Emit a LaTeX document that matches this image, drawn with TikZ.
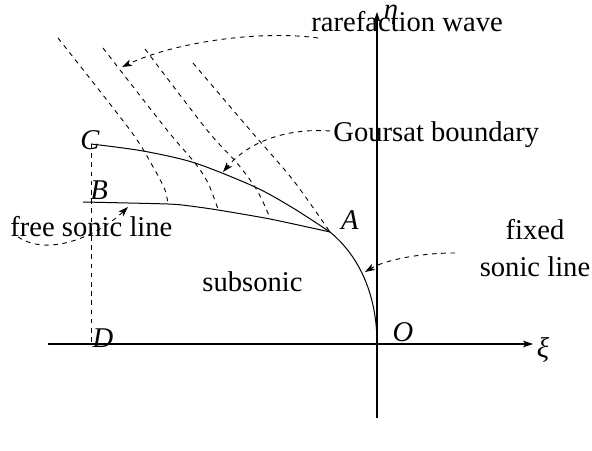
\documentclass[tikz,border=0pt]{standalone}
\usepackage{fontspec}
\setmainfont{Liberation Serif}
\usetikzlibrary{arrows.meta}
\begin{document}
\begin{tikzpicture}[x=0.5bp,y=-0.5bp,
  every node/.style={inner sep=0pt,font=\fontsize{14.3bp}{17bp}\selectfont},
  curve/.style={line width=0.5bp},
  dsh/.style={line width=0.45bp,dash pattern=on 2.3bp off 2.3bp},
  pointer/.style={dsh,-{Stealth[length=5bp,width=3.4bp,inset=1.3bp]}},
  axis/.style={line width=0.6bp,-{Stealth[length=5bp,width=3.4bp,inset=1.3bp]}}]
\useasboundingbox (0,0) rectangle (592,451);

% key points
\coordinate (O) at (377,344);
\coordinate (A) at (330,232);
\coordinate (C) at (91,144);
\coordinate (B) at (83,202);
\coordinate (D) at (91,344);
\coordinate (xl) at (48,344);
\coordinate (xr) at (533,344);
\coordinate (yb) at (377,418);
\coordinate (yt) at (377,12);

% axes
\draw[axis] (xl) -- (xr);
\draw[axis] (yb) -- (yt);

% curves
\draw[curve] (A) .. controls (352,250) and (377,285) .. (O);
\draw[curve] plot[smooth,tension=0.5] coordinates {(C) (143,151) (195,163) (255,187) (293,208) (A)};
\draw[curve] plot[smooth,tension=0.4] coordinates {(B) (168,204) (190,206) (218,210) (270,219) (A)};
\draw[dsh] (C) -- (D);

% rarefaction characteristics
\draw[dsh] plot[smooth,tension=0.5] coordinates {(58,38) (130,130) (152,165) (165,190) (168,205)};
\draw[dsh] plot[smooth,tension=0.5] coordinates {(103,48) (167,130) (195,163) (208,183) (218,209)};
\draw[dsh] plot[smooth,tension=0.5] coordinates {(145,49) (207,130) (237,163) (255,187) (263,202) (270,218)};
\draw[dsh] plot[smooth,tension=0.5] coordinates {(193,63) (250,130) (293,180) (A)};

% labels
\node[anchor=base] (lC) at (90,150) {\textit{C}};
\node[anchor=base] (lB) at (99,200) {\textit{B}};
\node[anchor=base] (lD) at (103,348) {\textit{D}};
\node[anchor=base] (lA) at (350,230) {\textit{A}};
\node[anchor=base] (lO) at (403,342) {\textit{O}};
\node[anchor=base] (leta) at (391,19) {\textit{η}};
\node[anchor=base] (lxi) at (543,357) {\textit{ξ}};
\node[anchor=base west] (rw) at (311,32) {rarefaction wave};
\node[anchor=base west] (gb) at (333,142) {Goursat boundary};
\node[anchor=base west] (fsl) at (10,237) {free sonic line};
\node[anchor=base west] (sub) at (202,292) {subsonic};
\node[anchor=base] (fx1) at (535,240) {fixed};
\node[anchor=base] (fx2) at (535,277) {sonic line};

% pointers
\coordinate (rw0) at (318,38);
\coordinate (rw1) at (122,67);
\draw[pointer] (rw0) .. controls (260,30) and (175,42) .. (rw1);
\coordinate (gb0) at (330,131);
\coordinate (gb1) at (223,172);
\draw[pointer] (gb0) .. controls (290,128) and (250,140) .. (gb1);
\coordinate (fs0) at (18,237);
\coordinate (fs1) at (128,207);
\draw[pointer] (fs0) .. controls (50,258) and (100,234) .. (fs1);
\coordinate (fx0) at (455,253);
\coordinate (fxe) at (365,272);
\draw[pointer] (fx0) .. controls (420,253) and (385,260) .. (fxe);
\end{tikzpicture}
\end{document}
